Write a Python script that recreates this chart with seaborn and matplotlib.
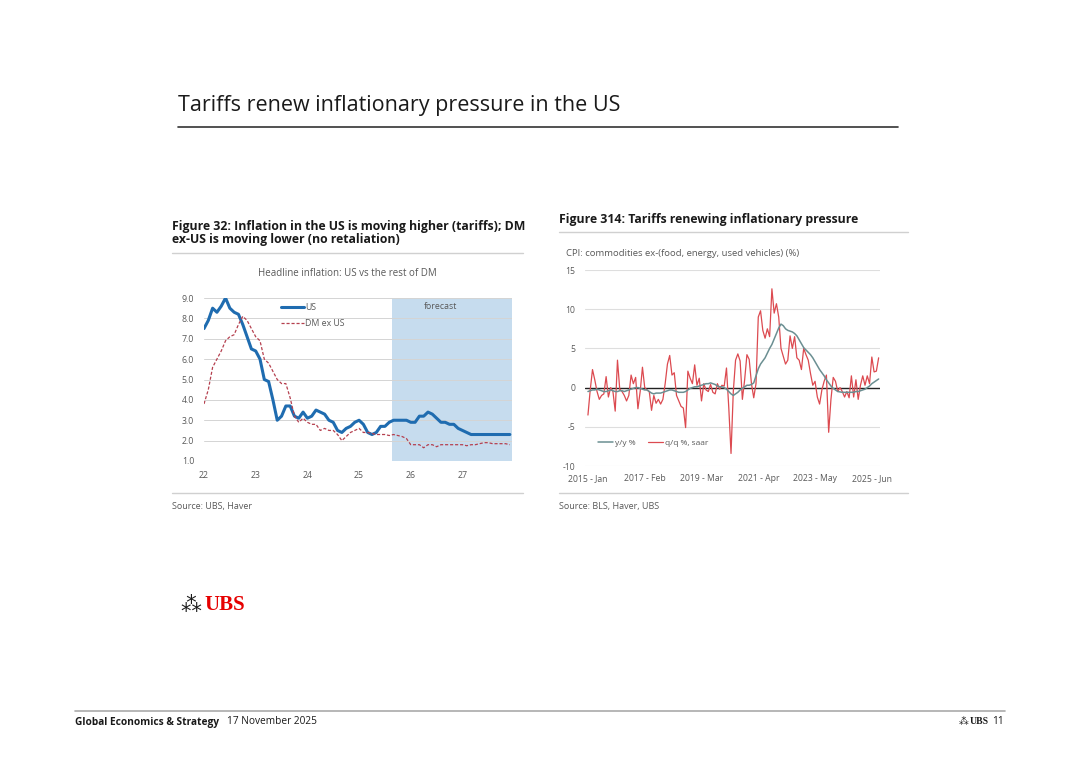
import matplotlib
matplotlib.use("Agg")
import matplotlib.pyplot as plt
import seaborn as sns
import numpy as np

# ---- Figure 32: headline inflation, monthly Jan-2022 .. Dec-2027 ----
us_infl = [7.5, 7.9, 8.5, 8.3, 8.6, 9.0, 8.5, 8.3, 8.2, 7.7, 7.1, 6.5,
           6.4, 6.0, 5.0, 4.9, 4.0, 3.0, 3.2, 3.7, 3.7, 3.2, 3.1, 3.4,
           3.1, 3.2, 3.5, 3.4, 3.3, 3.0, 2.9, 2.5, 2.4, 2.6, 2.7, 2.9,
           3.0, 2.8, 2.4, 2.3, 2.4, 2.7, 2.7, 2.9, 3.0, 3.0, 3.0, 3.0,
           2.9, 2.9, 3.2, 3.2, 3.4, 3.3, 3.1, 2.9, 2.9, 2.8, 2.8, 2.6,
           2.5, 2.4, 2.3, 2.3, 2.3, 2.3, 2.3, 2.3, 2.3, 2.3, 2.3, 2.3]
dm_ex_us = [3.8, 4.5, 5.6, 6.0, 6.4, 6.9, 7.1, 7.2, 7.7, 8.1, 7.9, 7.5,
            7.1, 6.9, 6.0, 5.8, 5.4, 5.0, 4.8, 4.8, 4.1, 3.2, 2.9, 3.1,
            2.9, 2.8, 2.8, 2.5, 2.6, 2.5, 2.5, 2.3, 2.0, 2.2, 2.4, 2.5,
            2.6, 2.4, 2.4, 2.35, 2.3, 2.3, 2.3, 2.25, 2.3, 2.25, 2.2, 2.1,
            1.8, 1.8, 1.8, 1.65, 1.8, 1.8, 1.7, 1.8, 1.8, 1.8, 1.8, 1.8,
            1.8, 1.75, 1.8, 1.8, 1.85, 1.9, 1.9, 1.85, 1.85, 1.85, 1.85, 1.8]
year_labels = ["22", "23", "24", "25", "26", "27"]
forecast_start = 43.7  # months after Jan-2022

# ---- Figure 314: CPI commodities ex food, energy, used vehicles, Jan-2015 .. Sep-2025 ----
qq_saar = [-3.5, -0.3, 2.3, 1.0, -0.5, -1.5, -1.0, -0.8, 1.4, -1.2,
           0.0, -0.5, -3.0, 3.5, -0.2, -0.5, -1.0, -1.7, -1.0, 1.6,
           0.5, 1.3, -2.7, -0.5, 2.6, 0.0, -0.3, -0.5, -2.9, -1.0,
           -2.0, -1.5, -2.1, -1.5, 0.5, 3.0, 4.1, 1.6, 1.9, -1.0,
           -1.7, -2.4, -2.6, -5.1, 2.1, 1.2, 0.5, 2.9, 0.3, 1.2,
           -1.7, 0.5, -0.3, -0.5, 0.4, -0.6, -0.8, 0.5, -0.2, 0.3,
           0.2, 2.5, -2.5, -8.4, -0.5, 3.5, 4.3, 3.4, -1.5, 1.0,
           4.2, 3.6, 0.5, -1.3, 0.5, 9.0, 9.8, 7.3, 6.3, 7.5,
           6.5, 12.6, 9.5, 10.7, 9.0, 5.0, 4.0, 3.0, 3.5, 6.6,
           5.0, 6.5, 3.8, 3.5, 2.3, 5.0, 4.2, 3.5, 1.8, 0.3,
           0.8, -1.2, -2.1, -0.3, 0.8, 1.6, -5.7, -1.5, 1.3, 0.8,
           -0.5, 0.0, -0.5, -1.2, -0.5, -1.3, 1.5, -1.2, 1.0, -1.5,
           0.3, 1.5, 0.3, 1.5, 0.5, 3.9, 2.0, 2.1, 3.8]
yy = [-0.5, -0.4, -0.3, -0.3, -0.2, -0.3, -0.4, -0.5, -0.5, -0.4,
      -0.3, -0.4, -0.5, -0.5, -0.4, -0.4, -0.5, -0.4, -0.3, -0.2,
      -0.1, 0.0, 0.0, -0.1, -0.2, -0.3, -0.3, -0.5, -0.7, -0.8,
      -0.7, -0.7, -0.7, -0.6, -0.5, -0.4, -0.3, -0.3, -0.4, -0.5,
      -0.6, -0.6, -0.6, -0.5, -0.3, -0.1, 0.0, 0.1, 0.1, 0.2,
      0.3, 0.4, 0.5, 0.5, 0.6, 0.5, 0.4, 0.2, 0.1, 0.1,
      0.0, -0.2, -0.5, -0.8, -1.0, -0.8, -0.6, -0.3, -0.1, 0.1,
      0.3, 0.3, 0.4, 0.6, 1.5, 2.4, 3.0, 3.4, 3.8, 4.4,
      5.0, 5.5, 6.2, 6.9, 7.6, 8.1, 7.9, 7.5, 7.3, 7.2,
      7.1, 6.9, 6.6, 6.1, 5.6, 5.1, 4.8, 4.5, 4.2, 3.8,
      3.3, 2.8, 2.3, 1.9, 1.5, 1.0, 0.6, 0.2, -0.1, -0.3,
      -0.5, -0.55, -0.6, -0.6, -0.6, -0.6, -0.6, -0.6, -0.5, -0.5,
      -0.4, -0.3, -0.2, 0.0, 0.2, 0.5, 0.7, 0.9, 1.1]
cpi_labels = ["2015 - Jan", "2017 - Feb", "2019 - Mar", "2021 - Apr", "2023 - May", "2025 - Jun"]

sns.set_style("white")
plt.rcParams["font.family"] = ["Open Sans", "DejaVu Sans"]
plt.rcParams["axes.unicode_minus"] = False

W, H = 1080, 763
fig = plt.figure(figsize=(W / 100, H / 100), dpi=100)


def px(x, y):
    return x / W, 1 - y / H


def rect(x0, y0, x1, y1):
    return [x0 / W, 1 - y1 / H, (x1 - x0) / W, (y1 - y0) / H]


def hline(x0, x1, y, color, lw):
    fig.add_artist(plt.Line2D([x0 / W, x1 / W], [1 - y / H, 1 - y / H],
                              color=color, lw=lw, transform=fig.transFigure))


grey = "#595959"

# -------- page header --------
fig.text(*px(178, 106), "Tariffs renew inflationary pressure in the US",
         fontsize=15.5, color="#1a1a1a", va="center", ha="left")
hline(178, 898, 127, "#333333", 1.2)

# -------- left panel --------
fig.text(*px(172, 233), "Figure 32: Inflation in the US is moving higher (tariffs); DM\nex-US is moving lower (no retaliation)",
         fontsize=8.8, fontweight="bold", color="#1a1a1a", va="center", ha="left", linespacing=1.05)
hline(172, 523, 253, "#d0d0d0", 1.0)
fig.text(*px(347, 273), "Headline inflation: US vs the rest of DM", fontsize=7,
         color=grey, ha="center", va="center")

ax1 = fig.add_axes(rect(204, 298, 512, 461))
months = np.arange(len(us_infl))
ax1.axvspan(forecast_start, 71.5, color="#c6dcee", lw=0, zorder=0)
for v in range(1, 10):
    ax1.axhline(v, color="#d4d4d4", lw=0.7, zorder=1)
sns.lineplot(x=months, y=us_infl, ax=ax1, color="#1f6cb0", lw=2.2, label="US", zorder=3)
sns.lineplot(x=months, y=dm_ex_us, ax=ax1, color="#b5404f", lw=0.9, label="DM ex US",
             dashes=False, zorder=3)
ax1.lines[-1].set_linestyle((0, (2.5, 1.5)))
ax1.set_xlim(0, 71.5)
ax1.set_ylim(1, 9)
ax1.set_yticks(range(1, 10))
ax1.set_yticklabels([f"{v:.1f}" for v in range(1, 10)])
ax1.set_xticks(np.arange(0, 61, 12))
ax1.set_xticklabels(year_labels)
ax1.tick_params(labelsize=6.3, colors=grey, length=0, pad=7)
for s in ax1.spines.values():
    s.set_visible(False)
ax1.set_xlabel("")
ax1.set_ylabel("")
ax1.text(0.715, 0.95, "forecast", transform=ax1.transAxes, fontsize=6.3, color=grey, va="center")
leg = ax1.legend(loc="upper left", bbox_to_anchor=(0.225, 1.02), frameon=False, fontsize=6.3,
                 handlelength=2.6, handletextpad=0.1, labelspacing=0.9)
for t in leg.get_texts():
    t.set_color(grey)

hline(172, 523, 493, "#d0d0d0", 1.0)
fig.text(*px(172, 506), "Source: UBS, Haver", fontsize=6.5, color=grey, va="center")

# -------- right panel --------
fig.text(*px(559, 220), "Figure 314: Tariffs renewing inflationary pressure",
         fontsize=8.8, fontweight="bold", color="#1a1a1a", va="center", ha="left")
hline(559, 908, 232, "#d0d0d0", 1.0)
fig.text(*px(566, 253), "CPI: commodities ex-(food, energy, used vehicles) (%)", fontsize=6.8,
         color=grey, va="center")

ax2 = fig.add_axes(rect(585, 270, 880, 466))
idx = np.arange(len(qq_saar))
for v in range(-10, 16, 5):
    ax2.axhline(v, color="#dedede", lw=0.8, zorder=1)
ax2.axhline(0, color="#222222", lw=1.0, zorder=2)
sns.lineplot(x=idx, y=yy, ax=ax2, color="#6b8f92", lw=1.1, label="y/y %", zorder=4)
sns.lineplot(x=idx, y=qq_saar, ax=ax2, color="#dc4a50", lw=0.9, label="q/q %, saar", zorder=3)
ax2.set_xlim(-1.3, 128.6)
ax2.set_ylim(-10, 15)
ax2.set_yticks(range(-10, 16, 5))
ax2.set_xticks(np.arange(0, 126, 25))
ax2.set_xticklabels(cpi_labels)
ax2.tick_params(labelsize=6.2, colors=grey, length=0, pad=6)
ax2.tick_params(axis="y", pad=7)
for s in ax2.spines.values():
    s.set_visible(False)
ax2.set_xlabel("")
ax2.set_ylabel("")
leg2 = ax2.legend(loc="lower left", bbox_to_anchor=(0.02, 0.06), ncol=2, frameon=False, fontsize=6,
                  handlelength=1.8, handletextpad=0.2, columnspacing=1.5)
for t in leg2.get_texts():
    t.set_color(grey)

hline(559, 908, 493, "#d0d0d0", 1.0)
fig.text(*px(559, 506), "Source: BLS, Haver, UBS", fontsize=6.5, color=grey, va="center")

# -------- logo and footer --------
fig.text(*px(180, 605), "\u2042", fontsize=15, color="#1a1a1a", va="center", family="DejaVu Sans")
fig.text(*px(204, 605), "UBS", fontsize=15, color="#e60000", va="center",
         family="Liberation Serif", fontweight="bold")

hline(75, 1005, 711, "#aaaaaa", 1.2)
fig.text(*px(75, 722), "Global Economics & Strategy", fontsize=7.3, fontweight="bold",
         color="#1a1a1a", va="center")
fig.text(*px(227, 722), "17 November 2025", fontsize=7.3, color="#1a1a1a", va="center")
fig.text(*px(970, 722), "UBS", fontsize=7, color="#1a1a1a", va="center",
         family="Liberation Serif", fontweight="bold")
fig.text(*px(959, 722), "\u2042", fontsize=7, color="#1a1a1a", va="center", family="DejaVu Sans")
fig.text(*px(992, 722), "11", fontsize=7.3, color="#1a1a1a", va="center")

fig.savefig("out.png", dpi=100, facecolor="white")
